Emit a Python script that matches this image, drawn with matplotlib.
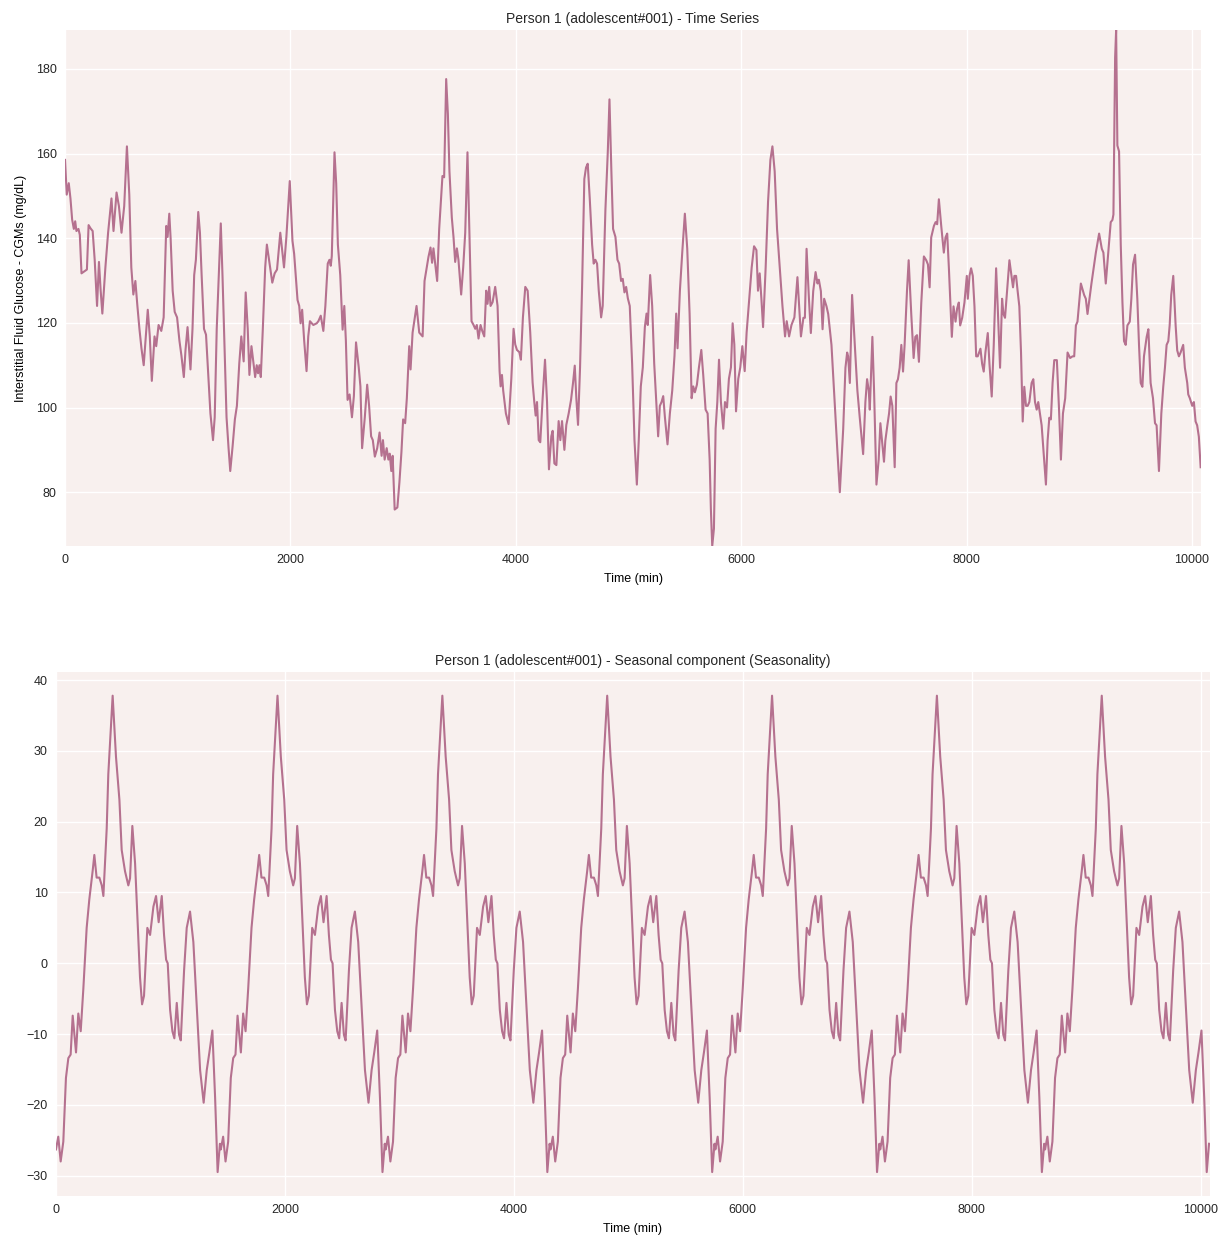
import numpy as np
import matplotlib
matplotlib.use("Agg")
import matplotlib.pyplot as plt

plt.rcParams.update({
    "font.family": ["Liberation Sans", "DejaVu Sans"],
    "font.size": 9,
    "text.color": "#262626",
    "xtick.color": "#262626",
    "ytick.color": "#262626",
})

# CGM glucose readings (time in min, value in mg/dL)
time_min = [
    0, 15, 33, 48, 63, 78, 90, 101, 119, 131, 146, 173, 194, 209, 227, 245, 263, 284, 301, 316,
    331, 358, 382, 412, 430, 457, 478, 501, 525, 549, 570, 588, 606, 624, 642, 660, 678, 698, 734, 752,
    770, 794, 809, 830, 854, 875, 898, 910, 925, 937, 955, 973, 994, 1015, 1033, 1054, 1069, 1087, 1113, 1131,
    1146, 1161, 1182, 1197, 1212, 1233, 1251, 1269, 1290, 1313, 1328, 1346, 1367, 1382, 1397, 1415, 1433, 1451, 1466, 1487,
    1507, 1525, 1546, 1564, 1585, 1603, 1621, 1636, 1654, 1666, 1687, 1701, 1713, 1725, 1737, 1755, 1776, 1791, 1815, 1839,
    1860, 1881, 1910, 1943, 1964, 1994, 2018, 2033, 2063, 2078, 2090, 2104, 2122, 2143, 2158, 2173, 2203, 2233, 2248, 2269,
    2292, 2310, 2331, 2346, 2358, 2367, 2391, 2406, 2421, 2442, 2463, 2478, 2492, 2507, 2525, 2546, 2563, 2582, 2606, 2621,
    2636, 2660, 2681, 2698, 2716, 2731, 2749, 2770, 2791, 2809, 2821, 2836, 2854, 2869, 2881, 2895, 2907, 2925, 2949, 2967,
    2985, 3000, 3018, 3033, 3054, 3066, 3084, 3119, 3143, 3173, 3190, 3210, 3225, 3243, 3257, 3269, 3284, 3302, 3320, 3337,
    3349, 3364, 3382, 3397, 3411, 3432, 3447, 3462, 3477, 3491, 3515, 3533, 3551, 3571, 3589, 3607, 3625, 3640, 3654, 3669,
    3687, 3702, 3720, 3737, 3749, 3764, 3776, 3794, 3817, 3838, 3856, 3865, 3877, 3888, 3912, 3936, 3960, 3980, 3995, 4010,
    4031, 4045, 4063, 4084, 4105, 4128, 4149, 4164, 4176, 4188, 4203, 4217, 4238, 4259, 4277, 4294, 4315, 4327, 4342, 4360,
    4380, 4395, 4410, 4431, 4448, 4469, 4490, 4508, 4523, 4537, 4552, 4570, 4588, 4608, 4623, 4638, 4656, 4677, 4691, 4706,
    4721, 4736, 4757, 4771, 4795, 4816, 4831, 4848, 4863, 4884, 4902, 4917, 4934, 4949, 4964, 4979, 4994, 5011, 5032, 5053,
    5074, 5091, 5109, 5127, 5145, 5160, 5171, 5192, 5210, 5228, 5248, 5263, 5278, 5293, 5308, 5323, 5346, 5367, 5388, 5408,
    5423, 5435, 5456, 5477, 5500, 5521, 5542, 5560, 5574, 5589, 5607, 5625, 5646, 5663, 5684, 5702, 5720, 5731, 5743, 5758,
    5773, 5788, 5803, 5820, 5841, 5856, 5874, 5891, 5909, 5924, 5939, 5954, 5974, 5992, 6010, 6031, 6048, 6069, 6093, 6114,
    6135, 6149, 6164, 6179, 6194, 6217, 6238, 6259, 6277, 6297, 6318, 6342, 6366, 6389, 6404, 6425, 6446, 6472, 6499, 6514,
    6530, 6552, 6565, 6580, 6601, 6618, 6639, 6660, 6677, 6689, 6707, 6722, 6736, 6757, 6772, 6801, 6831, 6854, 6875, 6905,
    6925, 6940, 6949, 6964, 6984, 7008, 7031, 7052, 7082, 7102, 7117, 7132, 7141, 7164, 7179, 7200, 7220, 7235, 7253, 7267,
    7279, 7297, 7312, 7326, 7341, 7362, 7377, 7391, 7406, 7421, 7436, 7450, 7471, 7486, 7509, 7530, 7545, 7560, 7577, 7598,
    7621, 7642, 7657, 7672, 7686, 7710, 7725, 7739, 7754, 7775, 7798, 7813, 7828, 7843, 7857, 7869, 7884, 7902, 7916, 7931,
    7943, 7961, 7981, 8002, 8011, 8026, 8040, 8055, 8070, 8085, 8099, 8123, 8138, 8152, 8167, 8188, 8203, 8223, 8241, 8262,
    8276, 8297, 8315, 8327, 8341, 8359, 8380, 8394, 8412, 8424, 8439, 8453, 8468, 8483, 8498, 8512, 8527, 8542, 8557, 8577,
    8592, 8607, 8622, 8636, 8651, 8666, 8683, 8704, 8719, 8734, 8748, 8763, 8778, 8801, 8819, 8837, 8855, 8875, 8896, 8919,
    8940, 8955, 8970, 8984, 9014, 9043, 9058, 9073, 9108, 9147, 9176, 9200, 9214, 9235, 9265, 9279, 9294, 9303, 9318, 9327,
    9338, 9353, 9368, 9383, 9397, 9412, 9427, 9448, 9462, 9477, 9495, 9515, 9530, 9545, 9560, 9574, 9598, 9613, 9633, 9654,
    9672, 9686, 9707, 9728, 9745, 9760, 9775, 9790, 9802, 9816, 9834, 9855, 9869, 9884, 9899, 9922, 9937, 9958, 9967, 9981,
    10002, 10017, 10032, 10046, 10061, 10077,
]
glucose = [
    158.5, 150.3, 153.0, 149.4, 144.4, 142.2, 144.0, 141.7, 142.2, 140.8, 131.7, 132.2, 132.6, 143.1, 142.3, 141.7, 134.9, 124.0, 134.4, 127.6,
    122.2, 133.1, 141.3, 149.4, 141.7, 150.8, 147.6, 141.3, 147.6, 161.7, 150.3, 133.1, 126.7, 129.9, 124.0, 118.6, 114.0, 110.0, 123.1, 116.8,
    106.3, 116.8, 114.5, 119.5, 118.1, 121.3, 142.9, 140.3, 145.8, 139.9, 127.6, 122.6, 121.3, 115.8, 112.2, 107.2, 113.6, 119.0, 109.0, 118.6,
    131.3, 134.9, 146.2, 141.3, 131.3, 118.6, 117.2, 108.6, 98.6, 92.3, 97.7, 118.6, 133.1, 143.5, 131.3, 114.9, 97.7, 90.4, 85.0, 90.9,
    97.2, 100.4, 110.4, 116.8, 110.9, 127.2, 118.6, 107.7, 114.5, 111.8, 107.2, 110.0, 108.1, 110.0, 107.2, 118.6, 133.1, 138.5, 134.0, 129.5,
    131.7, 132.6, 141.3, 133.1, 140.3, 153.5, 139.4, 136.3, 125.4, 124.0, 119.9, 123.1, 115.8, 108.6, 116.8, 120.4, 119.5, 119.9, 120.4, 121.7,
    118.1, 124.0, 134.0, 134.9, 133.5, 135.8, 160.3, 153.0, 138.5, 131.3, 118.4, 124.0, 115.8, 101.8, 103.1, 97.7, 102.7, 115.4, 109.5, 105.0,
    90.4, 97.7, 105.4, 100.4, 93.2, 92.3, 88.4, 90.4, 94.1, 88.6, 92.3, 87.7, 90.4, 87.7, 89.1, 85.0, 88.6, 75.9, 76.4, 82.3,
    89.5, 97.2, 96.3, 102.2, 114.5, 109.0, 117.7, 124.0, 117.7, 116.8, 129.9, 133.1, 135.6, 137.8, 134.2, 137.6, 134.0, 129.9, 142.2, 149.4,
    154.7, 154.4, 177.6, 169.4, 155.8, 144.9, 140.3, 134.4, 137.6, 134.9, 126.7, 133.1, 141.3, 160.3, 140.3, 120.4, 119.5, 118.6, 119.5, 116.3,
    119.5, 118.1, 116.8, 127.6, 124.5, 128.5, 124.0, 124.9, 128.5, 124.0, 108.6, 105.0, 107.7, 104.0, 98.6, 96.1, 106.8, 118.6, 114.9, 113.6,
    113.1, 111.3, 121.3, 128.5, 127.6, 117.7, 105.9, 101.3, 98.1, 101.3, 92.3, 91.8, 102.2, 111.3, 101.3, 85.4, 93.2, 94.5, 86.8, 86.4,
    96.8, 92.3, 96.8, 90.0, 95.9, 98.6, 101.8, 105.9, 109.9, 102.2, 95.9, 109.5, 128.5, 154.0, 156.7, 157.6, 149.4, 138.5, 134.0, 134.9,
    134.0, 127.6, 121.3, 124.0, 146.7, 160.3, 172.8, 155.8, 142.2, 140.3, 134.9, 134.0, 129.9, 130.4, 127.2, 128.5, 125.8, 124.0, 110.4, 92.3,
    81.8, 92.3, 105.0, 109.5, 119.0, 122.2, 119.5, 131.3, 124.0, 110.4, 100.4, 93.2, 100.4, 101.3, 102.7, 97.7, 91.3, 98.6, 104.0, 112.2,
    122.2, 114.0, 127.6, 136.7, 145.8, 137.6, 122.2, 102.2, 105.0, 103.6, 105.4, 109.5, 113.6, 107.7, 99.5, 98.6, 87.7, 75.9, 67.3, 71.4,
    95.0, 101.3, 111.3, 101.3, 95.0, 101.3, 100.0, 106.8, 109.5, 119.9, 114.9, 99.1, 106.8, 109.5, 114.5, 108.6, 117.7, 124.9, 133.1, 138.1,
    137.2, 127.6, 131.7, 125.8, 119.0, 133.1, 148.5, 158.5, 161.7, 155.8, 142.2, 133.1, 124.0, 116.8, 120.4, 116.8, 119.5, 121.3, 130.8, 124.0,
    116.8, 121.2, 121.2, 137.5, 125.7, 117.6, 127.5, 132.0, 129.3, 130.2, 127.5, 118.5, 125.7, 123.9, 122.1, 114.8, 100.4, 89.5, 80.0, 94.9,
    109.4, 113.0, 112.1, 105.8, 126.6, 114.8, 104.0, 97.6, 89.0, 101.3, 106.7, 104.0, 99.5, 116.7, 104.0, 81.8, 87.7, 96.3, 91.3, 87.2,
    92.2, 95.8, 98.6, 102.6, 100.4, 85.9, 105.8, 106.7, 109.4, 114.8, 108.5, 114.8, 127.5, 134.8, 122.1, 111.7, 116.7, 117.1, 110.8, 124.8,
    135.7, 134.8, 133.8, 128.4, 140.2, 142.9, 143.8, 143.3, 149.2, 142.9, 136.6, 140.2, 141.1, 132.9, 123.9, 116.7, 123.9, 120.3, 123.4, 124.8,
    119.4, 121.2, 124.8, 131.1, 125.7, 131.1, 132.9, 131.1, 123.9, 112.1, 112.1, 113.9, 110.3, 108.5, 113.0, 117.6, 110.3, 102.6, 114.8, 132.9,
    123.9, 109.4, 125.7, 122.1, 121.2, 127.5, 134.8, 132.0, 128.4, 131.1, 131.1, 127.5, 123.9, 113.0, 96.7, 104.9, 100.4, 100.4, 101.3, 105.8,
    106.7, 101.3, 99.5, 101.3, 98.6, 95.8, 89.5, 81.8, 92.2, 97.6, 97.2, 105.8, 111.2, 111.2, 100.4, 87.7, 98.6, 102.2, 113.0, 111.7,
    112.1, 112.1, 119.4, 120.3, 129.3, 126.6, 125.7, 122.1, 129.3, 136.6, 141.1, 137.5, 136.6, 129.3, 139.3, 143.8, 144.3, 145.6, 182.7, 189.2,
    161.9, 160.5, 138.4, 124.8, 115.7, 114.8, 119.4, 120.3, 125.7, 133.8, 136.1, 125.7, 114.8, 105.8, 104.9, 112.1, 116.7, 118.5, 105.8, 102.2,
    96.3, 95.8, 85.0, 98.6, 104.9, 109.4, 114.8, 115.7, 119.4, 126.6, 131.1, 119.4, 113.5, 112.1, 113.0, 114.8, 109.4, 105.8, 103.1, 102.2,
    100.4, 101.3, 96.7, 95.8, 93.1, 85.9,
]

# one day (1440 min) of the seasonal component, repeats every day
day_len = 1440
n_days = 7
season_phase = [
    0, 20, 41, 64, 87, 108, 128, 146, 175, 195, 216, 239, 268, 291, 320, 335, 355, 379, 400, 414,
    443, 457, 495, 524, 554, 574, 603, 632, 647, 667, 691, 711, 734, 752, 769, 798, 822, 851, 874, 897,
    924, 944, 962, 976, 997, 1017, 1034, 1055, 1075, 1090, 1119, 1142, 1171, 1200, 1230, 1259, 1290, 1317, 1340, 1366,
    1390, 1412, 1432,
]
season_val = [
    -26.3, -24.5, -28.0, -25.2, -16.2, -13.4, -12.9, -7.4, -12.6, -7.1, -9.6, -3.6, 5.0, 9.0, 13.0, 15.3, 12.1, 12.1, 11.0, 9.5,
    19.0, 26.7, 37.8, 29.2, 23.1, 16.0, 13.0, 11.0, 12.0, 19.4, 14.1, 6.5, -2.0, -5.8, -4.6, 5.0, 4.0, 8.0, 9.5, 5.8,
    9.5, 4.0, 0.5, 0.0, -6.6, -9.6, -10.6, -5.6, -10.1, -10.9, -1.0, 5.0, 7.3, 3.0, -6.1, -15.1, -19.7, -15.1, -12.6, -9.5,
    -19.0, -29.5, -25.5,
]

line_color = "#b5718f"
face_color = "#f8f0ee"

season_t = np.concatenate([np.array(season_phase) + d * day_len for d in range(n_days)])
season_y = np.tile(season_val, n_days)

fig = plt.figure(figsize=(12.25, 12.38), dpi=100)
ax1 = fig.add_axes([0.0531, 0.559, 0.9273, 0.4168])
ax2 = fig.add_axes([0.0457, 0.034, 0.9420, 0.4233])

for ax in (ax1, ax2):
    ax.set_facecolor(face_color)
    ax.grid(True, color="white", linewidth=1.0)
    ax.set_axisbelow(True)
    for s in ax.spines.values():
        s.set_visible(False)
    ax.tick_params(length=0, labelsize=9, pad=6)

ax1.plot(time_min, glucose, color=line_color, linewidth=1.5)
ax1.set_xlim(0, 10080)
ax1.set_ylim(min(glucose), max(glucose))
ax1.set_title("Person 1 (adolescent#001) - Time Series", fontsize=10, pad=5)
ax1.set_xlabel("Time (min)", fontsize=9, labelpad=5)
ax1.set_ylabel("Interstitial Fluid Glucose - CGMs (mg/dL)", fontsize=9, labelpad=6)

ax2.plot(season_t, season_y, color=line_color, linewidth=1.5)
ax2.set_xlim(0, 10080)
ax2.set_title("Person 1 (adolescent#001) - Seasonal component (Seasonality)", fontsize=10, pad=5)
ax2.set_xlabel("Time (min)", fontsize=9, labelpad=5)

fig.savefig("out.png", dpi=100)
